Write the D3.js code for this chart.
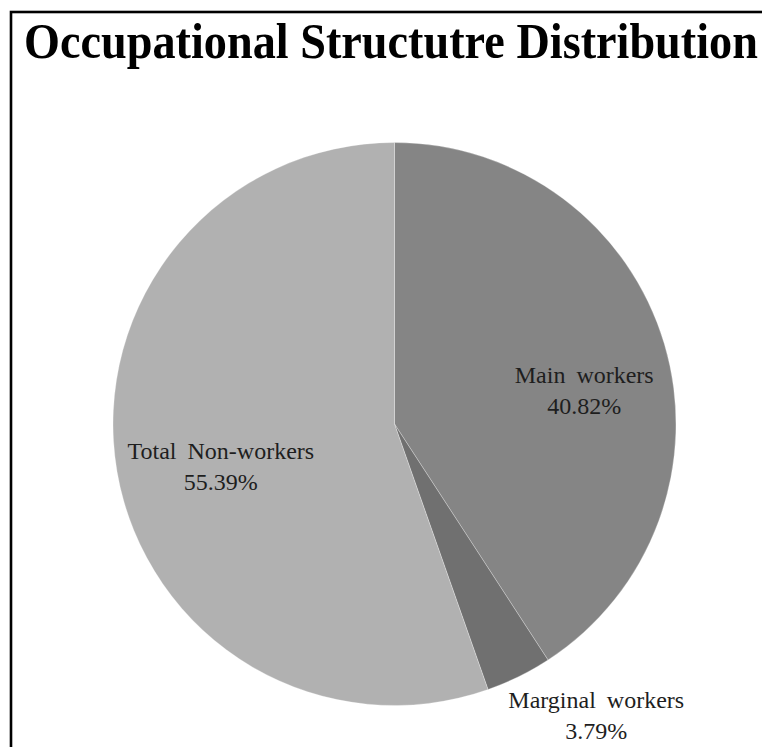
<!DOCTYPE html>
<html>
<head>
<meta charset="utf-8">
<script src="https://cdn.jsdelivr.net/npm/d3@7"></script>
<style>
  html, body { margin: 0; padding: 0; background: #fff; }
  svg { display: block; }
</style>
</head>
<body>
<svg id="chart" width="762" height="747"></svg>
<script>
// Occupational structure shares (percent of population)
const categories = ["Main workers", "Marginal workers", "Total Non-workers"];
const shares = [40.82, 3.79, 55.39];
const shareLabels = ["40.82%", "3.79%", "55.39%"];
const sliceColors = ["#858585", "#707070", "#b1b1b1"];
const chartTitle = "Occupational Structutre Distribution";

const W = 762, H = 747;
const svg = d3.select("#chart");

// Frame around the chart area (runs off the right and bottom edges)
svg.append("rect")
  .attr("x", 11).attr("y", 12)
  .attr("width", W + 20).attr("height", H + 20)
  .attr("fill", "none").attr("stroke", "#000").attr("stroke-width", 2.6);

// Title, condensed horizontally to span the frame width
const titleLeft = 24, titleBase = 58, titleWidth = 734;
const title = svg.append("text")
  .attr("font-family", "'Liberation Serif', 'Times New Roman', serif")
  .attr("font-weight", "bold")
  .attr("font-size", 50)
  .attr("fill", "#000")
  .text(chartTitle);
const natural = title.node().getComputedTextLength();
title.attr("transform", `translate(${titleLeft},${titleBase}) scale(${titleWidth / natural},1)`);

// Pie
const cx = 394.5, cy = 424, r = 281.5;
const data = categories.map((c, i) => ({ name: c, value: shares[i], label: shareLabels[i], color: sliceColors[i] }));

const pie = d3.pie().sort(null).value(d => d.value);
const arc = d3.arc().innerRadius(0).outerRadius(r);
const arcs = pie(data);

const g = svg.append("g").attr("transform", `translate(${cx},${cy})`);
g.selectAll("path.slice")
  .data(arcs)
  .enter().append("path")
  .attr("class", "slice")
  .attr("d", arc)
  .attr("fill", d => d.data.color)
  .attr("stroke", "#ffffff")
  .attr("stroke-opacity", 0.35)
  .attr("stroke-width", 0.8);

// Data labels: anchored on each slice's bisector, then nudged
const labelSpecs = [
  { rFrac: 0.69, dx: 3.5, dy: 22 },    // inside
  { rFrac: 1.26, dx: 45, dy: -26 },    // outside, below the rim
  { rFrac: 0.635, dx: 2.5, dy: 13 }    // inside
];
const labelArcs = arcs.map((a, i) => {
  const mid = (a.startAngle + a.endAngle) / 2;
  const s = labelSpecs[i];
  const rr = r * s.rFrac;
  return { a, x: Math.sin(mid) * rr + s.dx, y: -Math.cos(mid) * rr + s.dy };
});

const lbl = g.selectAll("g.lbl")
  .data(labelArcs)
  .enter().append("g")
  .attr("class", "lbl")
  .attr("transform", d => `translate(${d.x},${d.y})`);

lbl.append("text")
  .attr("text-anchor", "middle")
  .attr("y", -8)
  .attr("font-family", "'Liberation Serif', 'Times New Roman', serif")
  .attr("font-size", 24)
  .attr("word-spacing", 5)
  .attr("fill", "#1e1e1e")
  .text(d => d.a.data.name);

lbl.append("text")
  .attr("text-anchor", "middle")
  .attr("y", 23)
  .attr("font-family", "'Liberation Serif', 'Times New Roman', serif")
  .attr("font-size", 24)
  .attr("fill", "#1e1e1e")
  .text(d => d.a.data.label);
</script>
</body>
</html>
